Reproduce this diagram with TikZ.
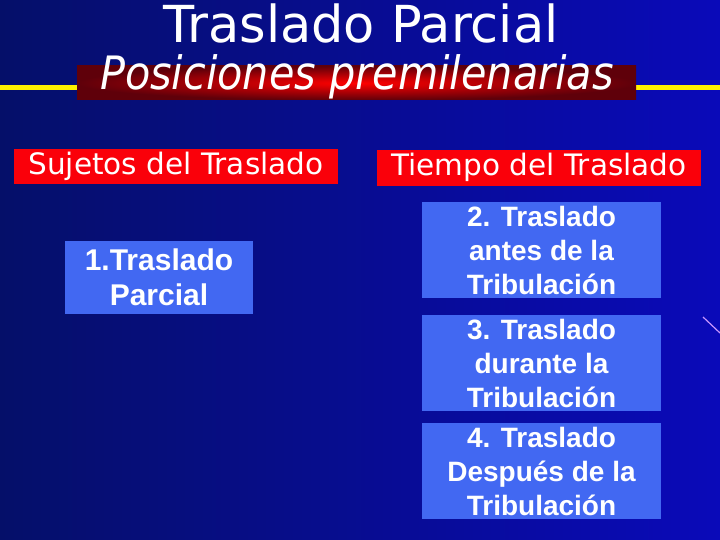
\documentclass[tikz,border=0pt]{standalone}
\usepackage{fontspec}
\setmainfont{Liberation Sans}
\newfontfamily\cabfont{DejaVu Sans}
\newfontfamily\subfont{DejaVu Sans Condensed}
\usetikzlibrary{positioning}

\definecolor{fondoA}{RGB}{5,15,105}
\definecolor{fondoB}{RGB}{10,10,185}
\definecolor{azulcaja}{RGB}{66,104,242}
\definecolor{rojocaja}{RGB}{250,0,10}
\definecolor{rojobarra}{RGB}{95,0,10}
\definecolor{amarillo}{RGB}{255,240,0}
\definecolor{lila}{RGB}{200,150,255}

\tikzset{
  caja/.style={fill=azulcaja, minimum width=239pt, minimum height=96pt, inner sep=0pt},
  cabecera/.style={fill=rojocaja, minimum width=324pt, minimum height=35pt, inner sep=0pt},
  letra/.style={text=white, align=center, font=\bfseries\fontsize{28}{34}\selectfont},
  cabletra/.style={text=white, anchor=base, font=\cabfont\fontsize{29.5}{34}\selectfont}
}

\begin{document}
\begin{tikzpicture}[x=1pt, y=-1pt]

      \useasboundingbox (0,0) rectangle (720,540);
      \shade[left color=fondoA, right color=fondoB] (0,0) rectangle (720,540);

	% titulo
	\node[anchor=base, text=white, font=\cabfont\fontsize{51}{56}\selectfont] (tit) at (361,43) {Traslado Parcial};

	\coordinate (ya) at (0,88);
	\coordinate (yb) at (77,88);
	\coordinate (yc) at (636,88);
	\coordinate (yd) at (720,88);
	\draw[amarillo, line width=5pt] (ya) -- (yb);
	\draw[amarillo, line width=5pt] (yc) -- (yd);

	\shade[inner color=red, outer color=rojobarra] (77,66) rectangle (636,100);
	\node[anchor=base, text=white, font=\subfont\itshape\fontsize{46}{50}\selectfont] (sub) at (357,90) {Posiciones premilenarias};

	% cabeceras
	\node[cabecera] (suj) at (176,167) {};
	\node[cabecera, minimum height=36pt] (tie) at (539,168) {};
	\node[cabletra] (sujt) at (176,175) {Sujetos del Traslado};
	\node[cabletra] (tiet) at (539,176) {Tiempo del Traslado};

	% cajas
	\node[caja, minimum width=188pt, minimum height=73pt] (c1) at (159,277.5) {};
	\node[letra, font=\bfseries\fontsize{30}{35}\selectfont] (t1) at (c1.center) {1.Traslado\\ Parcial};

	\foreach \n/\y/\txt in {2/250/{2. Traslado\\antes de la\\Tribulación},
	                        3/363/{3. Traslado\\durante la\\Tribulación},
	                        4/471/{4. Traslado\\Después de la\\Tribulación}}{
	   \node[caja] (c\n) at (541.5,\y) {};
	   \node[letra] (t\n) at (c\n.center) {\txt};
	}

	\coordinate (la) at (703,317);
	\coordinate (lb) at (720,333);
	\draw[lila, line width=1.2pt] (la) -- (lb);
    \end{tikzpicture}
\end{document}
